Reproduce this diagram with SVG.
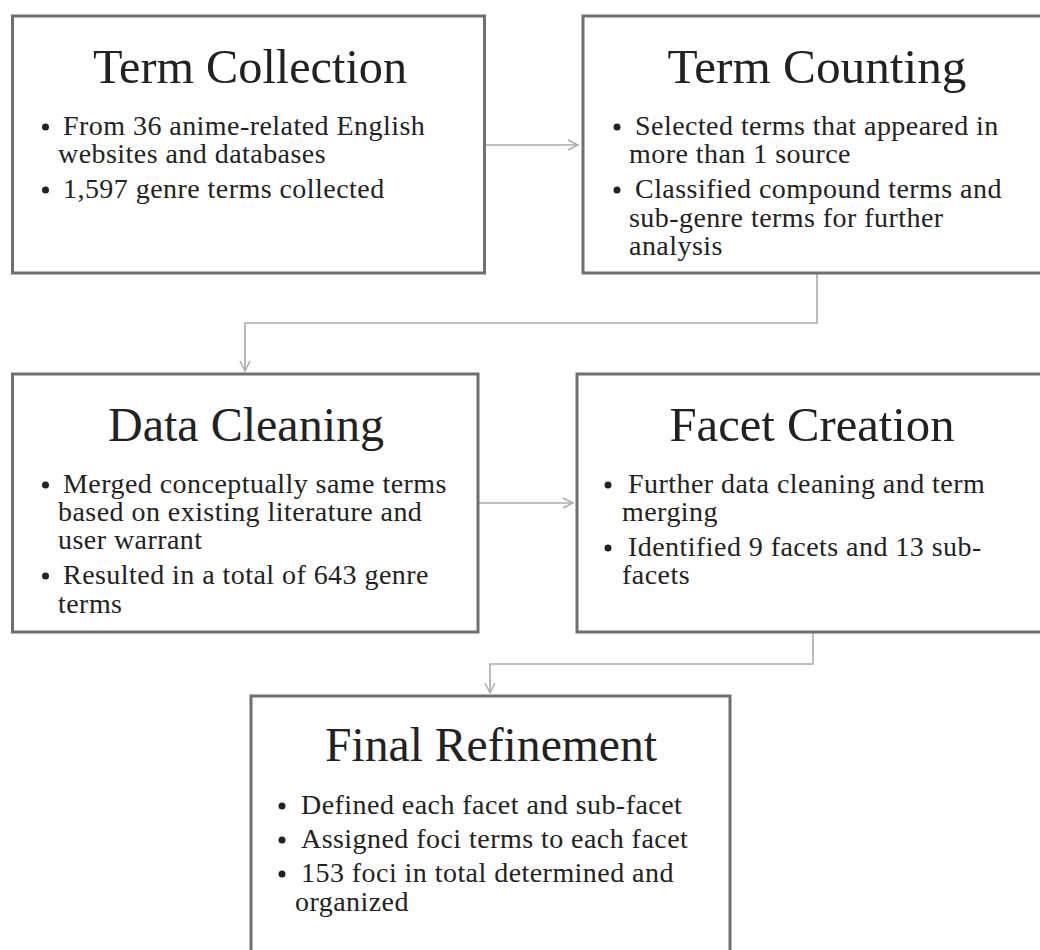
<svg xmlns="http://www.w3.org/2000/svg" width="1040" height="950" viewBox="0 0 1040 950">
<style>
.box{fill:#fff;stroke:#6f6f6f;stroke-width:3}
.title{font-family:"Liberation Serif","DejaVu Serif",serif;font-size:48px;fill:#222;text-anchor:middle}
.body{font-family:"Liberation Serif","DejaVu Serif",serif;font-size:28px;letter-spacing:0.45px;fill:#222}
.dot{fill:#222}
.conn{fill:none;stroke:#ababab;stroke-width:1.6}
</style>
<defs>
<marker id="arr" markerUnits="userSpaceOnUse" markerWidth="14" markerHeight="14" refX="11" refY="6" orient="auto">
<path d="M1,1 L11,6 L1,11" fill="none" stroke="#ababab" stroke-width="1.4"/>
</marker>
</defs>
<rect width="1040" height="950" fill="#fff"/>
<g id="connectors">
<path class="conn" d="M486,145 L578,145" marker-end="url(#arr)"/>
<path class="conn" d="M817,274 L817,323 L245,323 L245,371" marker-end="url(#arr)"/>
<path class="conn" d="M479,503 L573,503" marker-end="url(#arr)"/>
<path class="conn" d="M813,633 L813,664 L490,664 L490,693" marker-end="url(#arr)"/>
</g>
<g id="term-collection">
<rect class="box" x="12.5" y="16" width="472" height="257"/>
<text class="title" x="250" y="83" textLength="314" lengthAdjust="spacingAndGlyphs">Term Collection</text>
<circle class="dot" cx="45.5" cy="127" r="3.5"/>
<text class="body" x="63" y="135">From 36 anime-related English</text>
<text class="body" x="58" y="163">websites and databases</text>
<circle class="dot" cx="45.5" cy="190" r="3.5"/>
<text class="body" x="63" y="198">1,597 genre terms collected</text>
</g>
<g id="term-counting">
<rect class="box" x="583" y="16" width="470" height="257"/>
<text class="title" x="817" y="83" textLength="299" lengthAdjust="spacingAndGlyphs">Term Counting</text>
<circle class="dot" cx="617" cy="127" r="3.5"/>
<text class="body" x="635" y="135">Selected terms that appeared in</text>
<text class="body" x="629" y="163">more than 1 source</text>
<circle class="dot" cx="617" cy="190" r="3.5"/>
<text class="body" x="635" y="198">Classified compound terms and</text>
<text class="body" x="629" y="227">sub-genre terms for further</text>
<text class="body" x="629" y="255">analysis</text>
</g>
<g id="data-cleaning">
<rect class="box" x="12.5" y="374" width="465.5" height="258"/>
<text class="title" x="246" y="441" textLength="276" lengthAdjust="spacingAndGlyphs">Data Cleaning</text>
<circle class="dot" cx="45.5" cy="485" r="3.5"/>
<text class="body" x="63" y="493">Merged conceptually same terms</text>
<text class="body" x="58" y="521">based on existing literature and</text>
<text class="body" x="58" y="549">user warrant</text>
<circle class="dot" cx="45.5" cy="576" r="3.5"/>
<text class="body" x="63" y="584">Resulted in a total of 643 genre</text>
<text class="body" x="58" y="613">terms</text>
</g>
<g id="facet-creation">
<rect class="box" x="577" y="374" width="480" height="258"/>
<text class="title" x="812" y="441" textLength="285" lengthAdjust="spacingAndGlyphs">Facet Creation</text>
<circle class="dot" cx="608" cy="485" r="3.5"/>
<text class="body" x="628" y="493">Further data cleaning and term</text>
<text class="body" x="622" y="521">merging</text>
<circle class="dot" cx="608" cy="548" r="3.5"/>
<text class="body" x="628" y="556">Identified 9 facets and 13 sub-</text>
<text class="body" x="622" y="584">facets</text>
</g>
<g id="final-refinement">
<rect class="box" x="251" y="696" width="479" height="280"/>
<text class="title" x="491" y="761" textLength="332" lengthAdjust="spacingAndGlyphs">Final Refinement</text>
<circle class="dot" cx="282" cy="806" r="3.5"/>
<text class="body" x="301" y="814">Defined each facet and sub-facet</text>
<circle class="dot" cx="282" cy="840" r="3.5"/>
<text class="body" x="301" y="848">Assigned foci terms to each facet</text>
<circle class="dot" cx="282" cy="874" r="3.5"/>
<text class="body" x="301" y="882">153 foci in total determined and</text>
<text class="body" x="295" y="911">organized</text>
</g>
</svg>
